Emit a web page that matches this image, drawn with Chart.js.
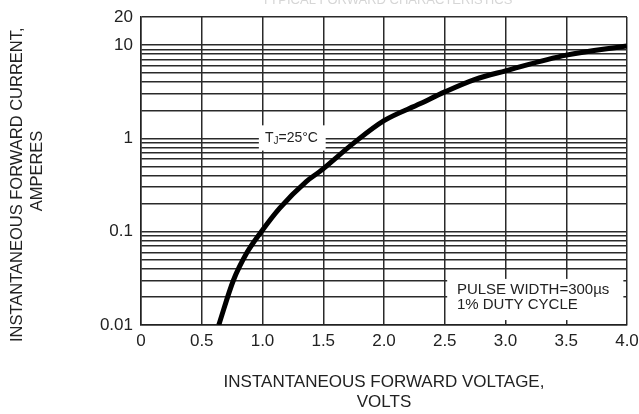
<!DOCTYPE html>
<html>
<head>
<meta charset="utf-8">
<script src="https://cdn.jsdelivr.net/npm/chart.js@4/dist/chart.umd.min.js"></script>
<style>
  html, body { margin: 0; padding: 0; background: #fff; }
  #wrap { width: 639px; height: 414px; }
</style>
</head>
<body>
<div id="wrap"><canvas id="Chart"></canvas></div>
<script>
// forward voltage (V) vs forward current (A)
let voltage = [0.64, 0.76, 0.87, 0.99, 1.14, 1.36, 1.47, 1.75, 2.0, 2.3, 2.5, 2.75, 3.0, 3.5, 4.0]
let current = [0.01, 0.03, 0.059, 0.1, 0.178, 0.345, 0.44, 0.89, 1.55, 2.36, 3.15, 4.3, 5.3, 7.8, 9.8]

let xTickLabels = ['0', '0.5', '1.0', '1.5', '2.0', '2.5', '3.0', '3.5', '4.0']
let yTickValues = [0.01, 0.02, 0.03, 0.04, 0.05, 0.06, 0.07, 0.08, 0.09,
                   0.1, 0.2, 0.3, 0.4, 0.5, 0.6, 0.7, 0.8, 0.9,
                   1, 2, 3, 4, 5, 6, 7, 8, 9, 10, 20]
let yTickLabels = {0.01: '0.01', 0.1: '0.1', 1: '1', 10: '10', 20: '20'}

let xTitle = ['INSTANTANEOUS FORWARD VOLTAGE,', 'VOLTS']
let yTitle = ['INSTANTANEOUS FORWARD CURRENT,      ', 'AMPERES']
let chartTitle = 'TYPICAL FORWARD CHARACTERISTICS'
let noteLines = ['PULSE WIDTH=300\u00b5s', '1% DUTY CYCLE']

let points = voltage.map((v, i) => ({x: v, y: current[i]}))
let fontName = '"Liberation Sans", Arial, sans-serif'

const notes = {
  id: 'notes',
  afterDatasetsDraw(chart) {
    const ctx = chart.ctx
    const xs = chart.scales.x, ys = chart.scales.y
    ctx.save()
    // pulse width box
    let l = xs.getPixelForValue(2.52), r = xs.getPixelForValue(3.97)
    let t = ys.getPixelForValue(0.0312), b = ys.getPixelForValue(0.0113)
    ctx.fillStyle = '#fff'
    ctx.fillRect(l, t, r - l, b - t)
    ctx.fillStyle = '#222'
    ctx.font = '15px ' + fontName
    ctx.textBaseline = 'middle'
    ctx.textAlign = 'left'
    ctx.fillText(noteLines[0], xs.getPixelForValue(2.6), ys.getPixelForValue(0.0238))
    ctx.fillText(noteLines[1], xs.getPixelForValue(2.6), ys.getPixelForValue(0.0164))

    // Tj box
    l = xs.getPixelForValue(0.97); r = xs.getPixelForValue(1.52)
    t = ys.getPixelForValue(1.38); b = ys.getPixelForValue(0.74)
    ctx.fillStyle = '#fff'
    ctx.fillRect(l, t, r - l, b - t)
    ctx.fillStyle = '#222'
    let tx = xs.getPixelForValue(1.02), ty = ys.getPixelForValue(1.0)
    ctx.font = '14px ' + fontName
    ctx.fillText('T', tx, ty)
    tx += ctx.measureText('T').width
    ctx.font = '10px ' + fontName
    ctx.fillText('J', tx, ty + 3)
    tx += ctx.measureText('J').width
    ctx.font = '14px ' + fontName
    ctx.fillText('=25\u00b0C', tx, ty)

    // faint clipped heading
    ctx.fillStyle = '#d6d6d6'
    ctx.font = '13px ' + fontName
    ctx.textAlign = 'center'
    ctx.textBaseline = 'alphabetic'
    ctx.fillText(chartTitle, 387, 4)
    ctx.restore()
  }
}

new Chart('Chart', {
  type: 'line',
  data: {
    datasets: [{
      data: points,
      borderColor: '#000',
      borderWidth: 5,
      pointRadius: 0,
      cubicInterpolationMode: 'monotone',
      fill: false
    }]
  },
  options: {
    responsive: true,
    maintainAspectRatio: false,
    animation: false,
    layout: {padding: {top: 17, right: 12, left: 0, bottom: 0}},
    plugins: {legend: {display: false}, tooltip: {enabled: false}},
    scales: {
      x: {
        type: 'linear',
        min: 0,
        max: 4,
        afterBuildTicks(scale) {
          scale.ticks = xTickLabels.map((s, i) => ({value: i * 0.5}))
        },
        afterFit(scale) {
          scale.height = 89
          scale.paddingLeft = 0
          scale.paddingRight = 0
        },
        grid: {color: '#2a2a2a', lineWidth: 1.5, drawTicks: false},
        border: {color: '#222', width: 1.5},
        ticks: {
          color: '#222',
          padding: 6,
          maxRotation: 0,
          font: {family: fontName, size: 17},
          callback: (v, i) => xTickLabels[i]
        },
        title: {
          display: true,
          text: xTitle,
          color: '#222',
          font: {family: fontName, size: 17, lineHeight: 1.2},
          padding: {top: 0, bottom: 1}
        }
      },
      y: {
        type: 'logarithmic',
        min: 0.01,
        max: 20,
        afterBuildTicks(scale) {
          scale.ticks = yTickValues.map(v => ({value: v}))
        },
        afterFit(scale) {
          scale.width = 141
          scale.paddingTop = 0
          scale.paddingBottom = 0
        },
        grid: {color: '#2a2a2a', lineWidth: 1.5, drawTicks: false},
        border: {color: '#222', width: 1.5},
        ticks: {
          color: '#222',
          padding: 8,
          autoSkip: false,
          font: {family: fontName, size: 17},
          callback: (v) => yTickLabels[v] || ''
        },
        title: {
          display: true,
          text: yTitle,
          color: '#222',
          font: {family: fontName, size: 16.5, lineHeight: 1.2},
          padding: {top: 8, bottom: 0}
        }
      }
    }
  },
  plugins: [notes]
})
</script>
</body>
</html>
